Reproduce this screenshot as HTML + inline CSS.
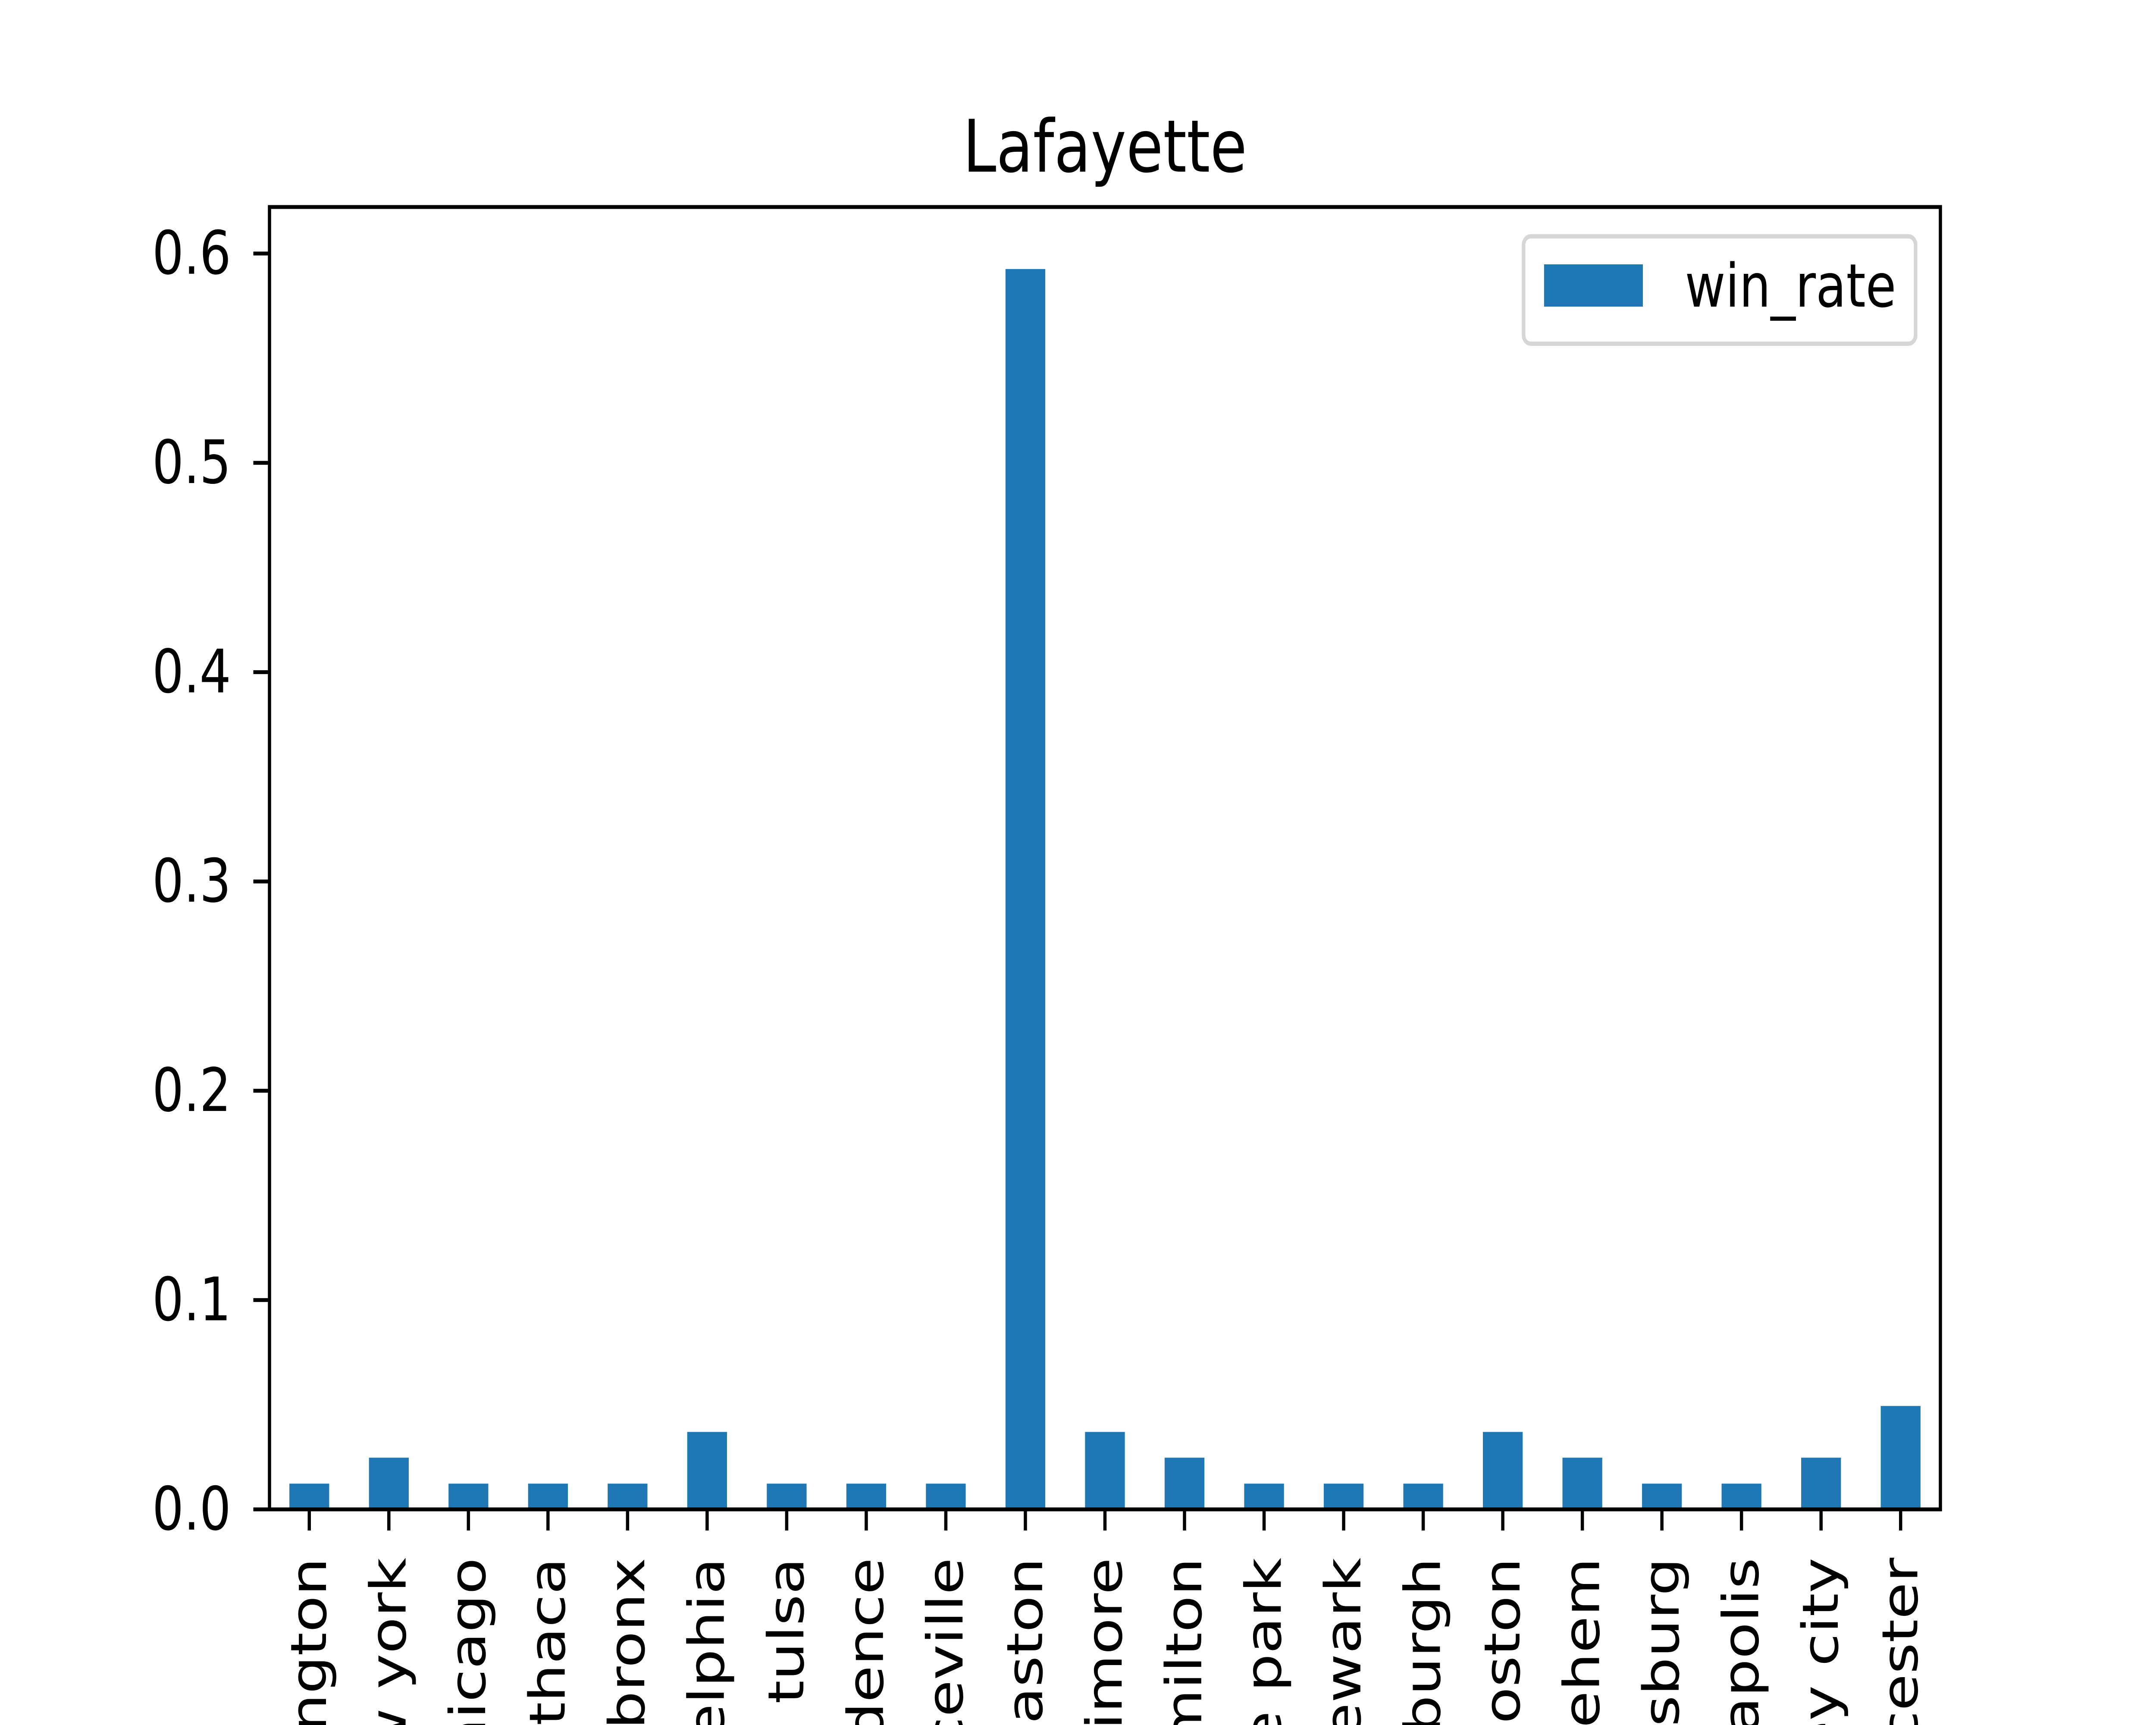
<!DOCTYPE html>
<html><head><meta charset="utf-8"><style>html,body{margin:0;padding:0;background:#fff;overflow:hidden;width:100vw;height:100vh}svg{display:block;position:absolute;left:0;top:0;width:100vw;height:100vh}</style></head>
<body>
<svg id="chart" viewBox="0 0 6000 4000" preserveAspectRatio="none" xmlns="http://www.w3.org/2000/svg" font-family="'DejaVu Sans','Liberation Sans',sans-serif">
<defs><clipPath id="frame"><rect x="0" y="0" width="6000" height="4000"/></clipPath></defs>
<g clip-path="url(#frame)">
<rect width="6000" height="4000" fill="#fff"/>
<text class="ht" data-x="3075" data-y="398" font-size="168" text-anchor="middle">Lafayette</text>
<g id="bars"></g>
<g id="yticks"></g>
<g id="xticks"></g>
<rect x="750" y="480" width="4650" height="3020" fill="none" stroke="#000" stroke-width="9"/>
<g>
<rect x="4240" y="548" width="1091" height="249" rx="20" fill="#fff" stroke="#d6d6d6" stroke-width="10"/>
<rect x="4297" y="613" width="275" height="98" fill="#1f77b4"/>
<text class="ht" data-x="4689" data-y="711" font-size="139">win_rate</text>
</g>
</g>
</svg>
<script>
const categories = ["washington","new york","chicago","ithaca","bronx","philadelphia","tulsa","providence","lawrenceville","easton","baltimore","hamilton","college park","newark","pittsburgh","boston","bethlehem","harrisburg","indianapolis","jersey city","worcester"];
const winRate = [0.0123,0.0247,0.0123,0.0123,0.0123,0.037,0.0123,0.0123,0.0123,0.5926,0.037,0.0247,0.0123,0.0123,0.0123,0.037,0.0247,0.0123,0.0123,0.0247,0.0494];
const yTickValues = [0.0,0.1,0.2,0.3,0.4,0.5,0.6];
const yTickLabels = ["0.0","0.1","0.2","0.3","0.4","0.5","0.6"];

const NS = "http://www.w3.org/2000/svg";
const L = 750, R = 5400, T = 480, B = 3500;
const FS = 139;
const yMax = Math.max(...winRate) * 1.05;
const n = categories.length;
const step = (R - L) / n;
const vw = window.innerWidth || 6000, vh = window.innerHeight || 4000;
const K = ((vh / 4000) / (vw / 6000)) || 1;
const S = K * 115 / 139;
function xScale(i) { return L + step * (i + 0.5); }
function yScale(v) { return B - (v / yMax) * (B - T); }
function mk(tag, attrs) { const e = document.createElementNS(NS, tag); for (const k in attrs) e.setAttribute(k, attrs[k]); return e; }

document.querySelectorAll('text.ht').forEach(t => {
  t.setAttribute('transform', `translate(${t.getAttribute('data-x')},${t.getAttribute('data-y')}) scale(${S},1)`);
});

const bars = document.getElementById('bars');
const xt = document.getElementById('xticks');
categories.forEach((c, i) => {
  const x = xScale(i), y = yScale(winRate[i]);
  const r = mk('rect', {x: x - step * 0.25, y: y, width: step * 0.5, height: B - y, fill: '#1f77b4'});
  
  
  bars.appendChild(r);
  const tk = mk('line', {x1: x, x2: x, y1: B, y2: B + 49, stroke: '#000', 'stroke-width': 9});
  
  
  xt.appendChild(tk);
  const t = mk('text', {x: 0, y: 0, 'font-size': FS, 'text-anchor': 'end', 'dominant-baseline': 'central', transform: `translate(${x},${B + 112}) scale(${S},1) rotate(-90)`});
  t.textContent = c;
  
  
  xt.appendChild(t);
});
const yt = document.getElementById('yticks');
yTickValues.forEach((v, i) => {
  const y = yScale(v);
  const tk = mk('line', {x1: L - 45, x2: L, y1: y, y2: y, stroke: '#000', 'stroke-width': 9});
  
  
  yt.appendChild(tk);
  const t = mk('text', {x: 0, y: 0, 'font-size': FS, 'text-anchor': 'end', 'dominant-baseline': 'central', transform: `translate(${L - 107},${y}) scale(${S},1)`});
  t.textContent = yTickLabels[i];
  
  
  yt.appendChild(t);
});
</script>
</body></html>
